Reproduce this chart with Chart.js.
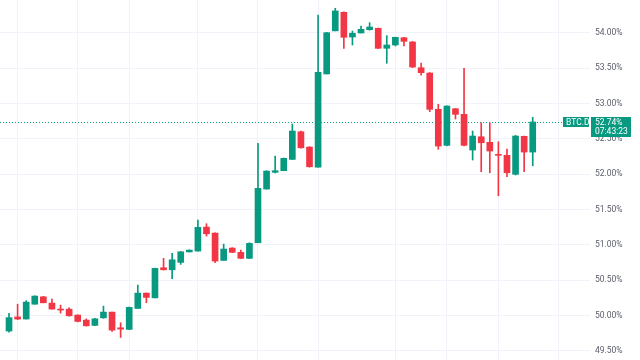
<!DOCTYPE html>
<html>
<head>
<meta charset="utf-8">
<script src="https://cdn.jsdelivr.net/npm/chart.js@4.4.0/dist/chart.umd.min.js"></script>
<style>
  html, body { margin: 0; padding: 0; background: #ffffff; }
  #chart { display: block; }
</style>
</head>
<body>
<canvas id="chart" width="640" height="360"></canvas>
<script>

// DATA (BTC dominance, %)

const opens = [
    49.78, 49.98, 49.95, 50.16, 50.265, 50.176, 50.085, 50.09, 50.006, 49.935,
    49.86, 49.967, 50.048, 49.826, 49.803, 50.10, 50.317, 50.25, 50.676, 50.647,
    50.752, 50.90, 50.912, 51.252, 51.167, 50.78, 50.955, 50.894, 50.809, 51.03,
    51.79, 52.027, 52.05, 52.21, 52.602, 52.385, 52.10, 53.42, 54.03, 54.293,
    53.943, 54.00, 54.047, 54.067, 53.783, 53.83, 53.933, 53.873, 53.508, 53.433,
    52.919, 52.409, 52.928, 52.848, 52.343, 52.531, 52.452, 52.282, 52.268, 51.999,
    52.537, 52.314
];

const highs = [
    50.03, 50.16, 50.21, 50.28, 50.27, 50.232, 50.147, 50.109, 50.01, 49.953,
    49.96, 50.133, 50.05, 49.897, 50.12, 50.431, 50.32, 50.67, 50.809, 50.88,
    50.905, 50.93, 51.351, 51.30, 51.17, 51.011, 50.96, 50.926, 51.03, 52.438,
    52.05, 52.258, 52.23, 52.711, 52.61, 52.39, 54.255, 54.01, 54.35, 54.30,
    54.028, 54.099, 54.146, 54.07, 53.962, 53.94, 53.94, 53.88, 53.575, 53.44,
    52.99, 52.97, 52.93, 53.50, 52.612, 52.729, 52.729, 52.46, 52.357, 52.55,
    52.54, 52.806
];

const lows = [
    49.765, 49.94, 49.95, 50.16, 50.18, 50.09, 50.034, 49.99, 49.91, 49.85,
    49.855, 49.96, 49.775, 49.69, 49.80, 50.10, 50.18, 50.25, 50.645, 50.52,
    50.724, 50.90, 50.91, 51.125, 50.747, 50.78, 50.89, 50.805, 50.805, 51.03,
    51.79, 52.02, 52.05, 52.21, 52.37, 52.10, 52.10, 53.42, 54.03, 53.783,
    53.83, 54.00, 54.04, 53.78, 53.571, 53.816, 53.816, 53.51, 53.401, 52.885,
    52.353, 52.40, 52.782, 52.40, 52.201, 52.035, 52.021, 51.695, 51.965, 51.99,
    52.035, 52.12
];

const closes = [
    49.97, 49.95, 50.19, 50.275, 50.18, 50.091, 50.077, 49.996, 49.916, 49.854,
    49.953, 50.048, 49.793, 49.807, 50.115, 50.317, 50.256, 50.667, 50.647, 50.789,
    50.902, 50.926, 51.248, 51.157, 50.771, 50.941, 50.894, 50.809, 51.021, 51.80,
    52.045, 52.05, 52.225, 52.612, 52.375, 52.106, 53.443, 54.004, 54.312, 53.939,
    53.996, 54.052, 54.085, 53.783, 53.83, 53.939, 53.882, 53.518, 53.438, 52.919,
    52.399, 52.966, 52.848, 52.409, 52.541, 52.446, 52.329, 52.268, 52.021, 52.541,
    52.314, 52.74
];

const priceTicks = [49.5, 50, 50.5, 51, 51.5, 52, 52.5, 53, 53.5, 54, 54.5];

// candles where the time grid lines fall
const timeGrid = [1, 8, 14, 22, 29, 36, 45, 51, 57, 64];

const symbol = "BTC.D";
const countdown = "07:43:23";


// STYLE

const UP = "#089981";
const DOWN = "#f23645";
const GRID = "#f0f3fa";

Chart.defaults.font.family = "Roboto, 'Liberation Sans', sans-serif";

const candleColor = (i) => closes[i] >= opens[i] ? UP : DOWN;

const bodies = opens.map((o, i) => ({ x: i, y: [o, closes[i]] }));
const wicks = lows.map((l, i) => ({ x: i, y: [l, highs[i]] }));


// LAST PRICE LINE + LABELS

const lastPrice = {

    id: "lastPrice",

    beforeDatasetsDraw(chart) {

        const { ctx, chartArea, scales } = chart;
        const y = Math.round(scales.y.getPixelForValue(closes[closes.length - 1])) + 0.5;

        ctx.save();
        ctx.strokeStyle = UP;
        ctx.lineWidth = 1;
        ctx.setLineDash([1, 2]);
        ctx.beginPath();
        ctx.moveTo(chartArea.left, y);
        ctx.lineTo(chartArea.right, y);
        ctx.stroke();
        ctx.restore();

    },

    afterDraw(chart) {

        const { ctx, chartArea, scales } = chart;
        const last = closes[closes.length - 1];
        const y = Math.round(scales.y.getPixelForValue(last));
        const right = chartArea.right;

        ctx.save();

        ctx.fillStyle = UP;
        ctx.fillRect(right - 27, y - 5, 26, 10);
        ctx.fillRect(right + 1, y - 5, 40, 20);

        ctx.fillStyle = "#ffffff";
        ctx.font = "8.5px Roboto, 'Liberation Sans', sans-serif";
        ctx.textBaseline = "middle";
        ctx.textAlign = "left";

        ctx.fillText(symbol, right - 24, y + 0.5);
        ctx.fillText(last.toFixed(2) + "%", right + 5, y + 0.5);
        ctx.fillText(countdown, right + 5, y + 10);

        ctx.restore();

    }

};


// CHART

new Chart(document.getElementById("chart"), {

    type: "bar",

    data: {
        datasets: [
            {
                data: bodies,
                backgroundColor: (c) => candleColor(c.dataIndex),
                barThickness: 6,
                minBarLength: 1,
                grouped: false,
                order: 1
            },
            {
                data: wicks,
                backgroundColor: (c) => candleColor(c.dataIndex),
                barThickness: 1,
                grouped: false,
                order: 2
            }
        ]
    },

    plugins: [lastPrice],

    options: {

        responsive: false,
        animation: false,
        devicePixelRatio: 1,

        layout: { padding: 0 },

        plugins: {
            legend: { display: false },
            tooltip: { enabled: false }
        },

        scales: {

            x: {
                type: "linear",
                offset: false,
                min: -1.05,
                max: 67.67,
                afterBuildTicks: (scale) => {
                    scale.ticks = timeGrid.map(v => ({ value: v }));
                },
                ticks: { display: false },
                grid: { color: GRID, drawTicks: false, offset: false },
                border: { display: false }
            },

            y: {
                position: "right",
                min: 49.37,
                max: 54.467,
                afterBuildTicks: (scale) => {
                    scale.ticks = priceTicks.map(v => ({ value: v }));
                },
                afterFit: (scale) => {
                    scale.width = 50;
                    scale.paddingTop = 0;
                    scale.paddingBottom = 0;
                },
                ticks: {
                    padding: 5,
                    color: "#5d606b",
                    font: { size: 8.5 },
                    callback: (v) => Number(v).toFixed(2) + "%"
                },
                grid: { color: GRID, drawTicks: false },
                border: { display: false }
            }

        }

    }

});

</script>
</body>
</html>
